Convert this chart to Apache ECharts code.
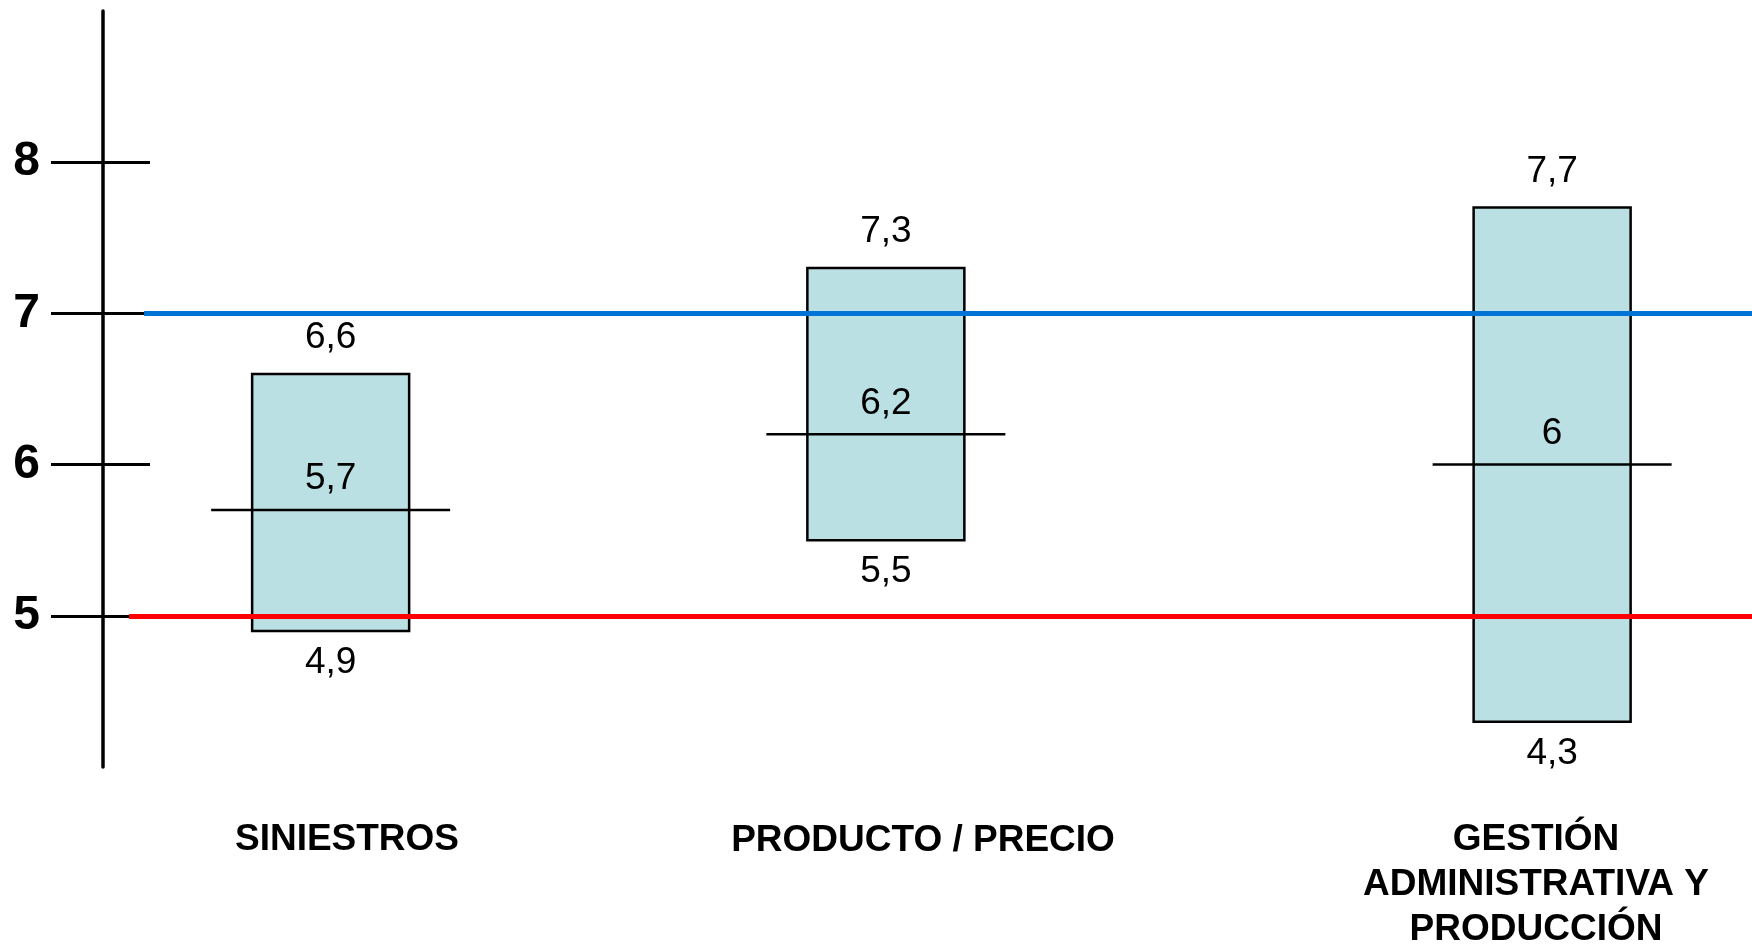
<!DOCTYPE html>
<html>
<head>
<meta charset="utf-8">
<script src="https://cdn.jsdelivr.net/npm/echarts@6/dist/echarts.min.js"></script>
<style>
  html, body { margin: 0; padding: 0; background: #fff; }
  #chart { width: 1752px; height: 944px; }
</style>
</head>
<body>
<div id="chart"></div>
<script>
// ---- data ----
const categories = ['SINIESTROS', 'PRODUCTO / PRECIO', 'GESTIÓN\nADMINISTRATIVA Y\nPRODUCCIÓN'];
const lowValues = [4.9, 5.5, 4.3];
const medianValues = [5.7, 6.2, 6];
const highValues = [6.6, 7.3, 7.7];
const yTickValues = [5, 6, 7, 8];
const upperReference = 7;
const lowerReference = 5;

// ---- layout (not data) ----
const FONT = '"Liberation Sans", Arial, Helvetica, sans-serif';
const slotPos = [2, 7, 13];          // horizontal slot of each box on the hidden x axis
const X_MIN = -0.05;
const X_MAX = 14.8;
const BOX_W = 157;
const MED_W = 239;
const catLabelPos = [[347, 840], [923, 841], [1536, 885]];

const fmt = v => String(v).replace('.', ',');

const boxData = categories.map((c, i) => [slotPos[i], lowValues[i], medianValues[i], highValues[i]]);

const chart = echarts.init(document.getElementById('chart'), null, { renderer: 'canvas' });

const option = {
  backgroundColor: '#ffffff',
  animation: false,
  grid: { left: 103, right: 0, top: 11, bottom: 177, containLabel: false, outerBoundsMode: 'none' },
  xAxis: {
    type: 'value', min: X_MIN, max: X_MAX, show: false
  },
  yAxis: [
    {
      type: 'value', min: 4, max: 9, interval: 1, position: 'left',
      axisLine: { show: true, onZero: false, lineStyle: { color: '#000', width: 3.5 } },
      axisTick: { show: true, customValues: yTickValues, length: 52, lineStyle: { color: '#000', width: 3 } },
      axisLabel: {
        show: true, customValues: yTickValues, margin: 63,
        color: '#000', fontFamily: FONT, fontWeight: 'bold', fontSize: 48
      },
      splitLine: { show: false }
    },
    {
      type: 'value', min: 4, max: 9, interval: 1, position: 'left',
      axisLine: { show: false, onZero: false },
      axisTick: { show: true, inside: true, customValues: yTickValues, length: 47, lineStyle: { color: '#000', width: 3 } },
      axisLabel: { show: false },
      splitLine: { show: false }
    }
  ],
  series: [
    {
      type: 'custom',
      z: 2,
      data: boxData,
      encode: { x: 0, y: [1, 2, 3] },
      renderItem: function (params, api) {
        const x = api.value(0);
        const lo = api.coord([x, api.value(1)]);
        const md = api.coord([x, api.value(2)]);
        const hi = api.coord([x, api.value(3)]);
        const cx = lo[0];
        const textStyle = (t, y) => ({
          type: 'text',
          x: cx, y: y,
          style: {
            text: t, fill: '#000', fontSize: 37, fontFamily: FONT,
            align: 'center', verticalAlign: 'middle'
          }
        });
        return {
          type: 'group',
          children: [
            {
              type: 'rect',
              shape: { x: cx - BOX_W / 2, y: hi[1], width: BOX_W, height: lo[1] - hi[1] },
              style: { fill: '#BBE0E3', stroke: '#000', lineWidth: 2.5 }
            },
            {
              type: 'line',
              shape: { x1: cx - MED_W / 2, y1: md[1], x2: cx + MED_W / 2, y2: md[1] },
              style: { stroke: '#000', lineWidth: 2.5 }
            },
            textStyle(fmt(api.value(3)), hi[1] - 36),
            textStyle(fmt(api.value(2)), md[1] - 31),
            textStyle(fmt(api.value(1)), lo[1] + 32)
          ]
        };
      }
    },
    {
      type: 'line',
      data: [],
      z: 5,
      silent: true,
      markLine: {
        silent: true,
        symbol: ['none', 'none'],
        label: { show: false },
        animation: false,
        data: [
          [
            { xAxis: 0.32, yAxis: upperReference, lineStyle: { color: '#0073D6', width: 5, type: 'solid' } },
            { xAxis: X_MAX, yAxis: upperReference }
          ],
          [
            { xAxis: 0.185, yAxis: lowerReference, lineStyle: { color: '#FF0000', width: 5, type: 'solid' } },
            { xAxis: X_MAX, yAxis: lowerReference }
          ]
        ]
      }
    }
  ],
  graphic: categories.map((c, i) => ({
    type: 'text',
    x: catLabelPos[i][0],
    y: catLabelPos[i][1],
    style: {
      text: c, fill: '#000', fontSize: 37, fontWeight: 'bold', fontFamily: FONT,
      align: 'center', verticalAlign: 'middle', lineHeight: 45
    }
  }))
};

chart.setOption(option);
</script>
</body>
</html>
